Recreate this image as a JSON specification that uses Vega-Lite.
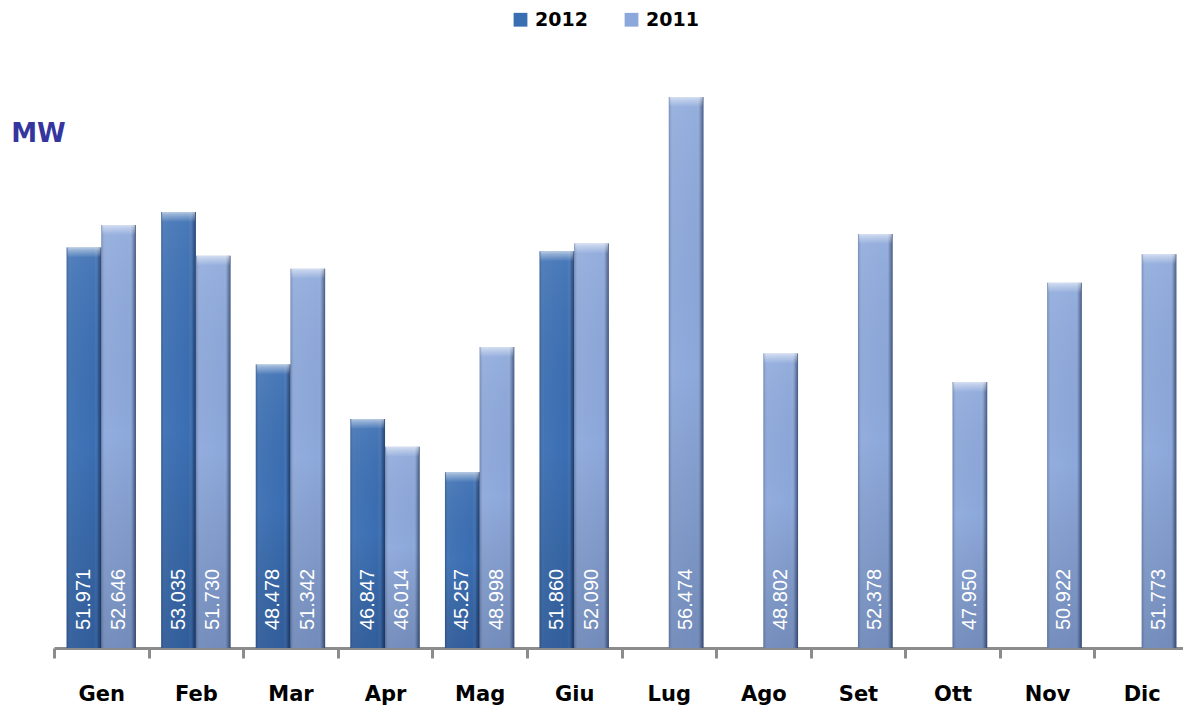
{
  "$schema": "https://vega.github.io/schema/vega-lite/v6.json",
  "width": 1129,
  "height": 581,
  "autosize": {"type": "none"},
  "padding": {"left": 54, "top": 67, "right": 0, "bottom": 63},
  "background": "white",
  "config": {"view": {"stroke": null}},
  "data": {
    "values": [
      {"mese": "Gen", "anno": "2012", "mw": 51.971},
      {"mese": "Gen", "anno": "2011", "mw": 52.646},
      {"mese": "Feb", "anno": "2012", "mw": 53.035},
      {"mese": "Feb", "anno": "2011", "mw": 51.730},
      {"mese": "Mar", "anno": "2012", "mw": 48.478},
      {"mese": "Mar", "anno": "2011", "mw": 51.342},
      {"mese": "Apr", "anno": "2012", "mw": 46.847},
      {"mese": "Apr", "anno": "2011", "mw": 46.014},
      {"mese": "Mag", "anno": "2012", "mw": 45.257},
      {"mese": "Mag", "anno": "2011", "mw": 48.998},
      {"mese": "Giu", "anno": "2012", "mw": 51.860},
      {"mese": "Giu", "anno": "2011", "mw": 52.090},
      {"mese": "Lug", "anno": "2011", "mw": 56.474},
      {"mese": "Ago", "anno": "2011", "mw": 48.802},
      {"mese": "Set", "anno": "2011", "mw": 52.378},
      {"mese": "Ott", "anno": "2011", "mw": 47.950},
      {"mese": "Nov", "anno": "2011", "mw": 50.922},
      {"mese": "Dic", "anno": "2011", "mw": 51.773}
    ]
  },
  "encoding": {
    "x": {
      "field": "mese",
      "type": "nominal",
      "scale": {
        "domain": ["Gen", "Feb", "Mar", "Apr", "Mag", "Giu", "Lug", "Ago", "Set", "Ott", "Nov", "Dic"],
        "range": [0, 1135],
        "paddingInner": 0,
        "paddingOuter": 0
      },
      "axis": {
        "title": null,
        "labelAngle": 0,
        "labelFont": "DejaVu Sans",
        "labelFontWeight": "bold",
        "labelFontSize": 21,
        "labelColor": "#000000",
        "labelPadding": 25,
        "tickBand": "extent",
        "tickSize": 10,
        "tickWidth": 3,
        "tickColor": "#8c8c8c",
        "domainColor": "#8c8c8c",
        "domainWidth": 3
      }
    },
    "xOffset": {
      "field": "anno",
      "type": "nominal",
      "scale": {"domain": ["2012", "2011"], "paddingInner": 0, "paddingOuter": 0.364}
    },
    "y": {
      "field": "mw",
      "type": "quantitative",
      "scale": {"domain": [40, 57.37], "zero": false, "nice": false},
      "axis": {
        "title": "MW",
        "titleAngle": 0,
        "titleX": -16,
        "titleY": 66,
        "titleAlign": "center",
        "titleBaseline": "middle",
        "titleFont": "DejaVu Sans",
        "titleFontWeight": "bold",
        "titleFontSize": 26,
        "titleColor": "#35359f",
        "labels": false,
        "ticks": false,
        "domain": false,
        "grid": false
      }
    }
  },
  "layer": [
    {
      "mark": {"type": "bar"},
      "encoding": {
        "y2": {"datum": 40},
        "color": {
          "field": "anno",
          "type": "nominal",
          "scale": {"domain": ["2012", "2011"], "range": ["#3a6eb3", "#8ca8db"]},
          "legend": {
            "title": null,
            "orient": "none",
            "direction": "horizontal",
            "legendX": 457,
            "legendY": -57,
            "symbolType": "square",
            "symbolSize": 190,
            "symbolStrokeWidth": 0,
            "labelFont": "DejaVu Sans",
            "labelFontWeight": "bold",
            "labelFontSize": 19,
            "labelColor": "#000000",
            "labelOffset": 5,
            "columnPadding": 34
          }
        }
      }
    },
    {
      "mark": {
        "type": "bar",
        "fill": {
          "gradient": "linear",
          "x1": 0, "y1": 0, "x2": 1, "y2": 0,
          "stops": [
            {"offset": 0, "color": "rgba(10,25,60,0.25)"},
            {"offset": 0.12, "color": "rgba(255,255,255,0.05)"},
            {"offset": 0.8, "color": "rgba(255,255,255,0)"},
            {"offset": 0.92, "color": "rgba(10,25,60,0.25)"},
            {"offset": 1, "color": "rgba(10,25,60,0.6)"}
          ]
        }
      },
      "encoding": {"y2": {"datum": 40}}
    },
    {
      "mark": {
        "type": "bar",
        "fill": {
          "gradient": "linear",
          "x1": 0, "y1": 0, "x2": 0, "y2": 1,
          "stops": [
            {"offset": 0, "color": "rgba(255,255,255,0.08)"},
            {"offset": 0.5, "color": "rgba(0,0,0,0)"},
            {"offset": 1, "color": "rgba(10,25,60,0.2)"}
          ]
        }
      },
      "encoding": {"y2": {"datum": 40}}
    },
    {
      "mark": {
        "type": "tick",
        "orient": "horizontal",
        "thickness": 10,
        "size": 33,
        "yOffset": 5,
        "fill": {
          "gradient": "linear",
          "x1": 0, "y1": 0, "x2": 0, "y2": 1,
          "stops": [
            {"offset": 0, "color": "rgba(255,255,255,0.6)"},
            {"offset": 0.25, "color": "rgba(255,255,255,0.4)"},
            {"offset": 1, "color": "rgba(255,255,255,0)"}
          ]
        },
        "opacity": 1
      }
    },
    {
      "mark": {
        "type": "text",
        "angle": 270,
        "align": "left",
        "baseline": "middle",
        "dx": 18,
        "font": "Liberation Sans",
        "fontSize": 20,
        "color": "#ffffff"
      },
      "encoding": {
        "y": {"datum": 40},
        "text": {"field": "mw", "type": "quantitative", "format": ".3f"}
      }
    }
  ]
}
